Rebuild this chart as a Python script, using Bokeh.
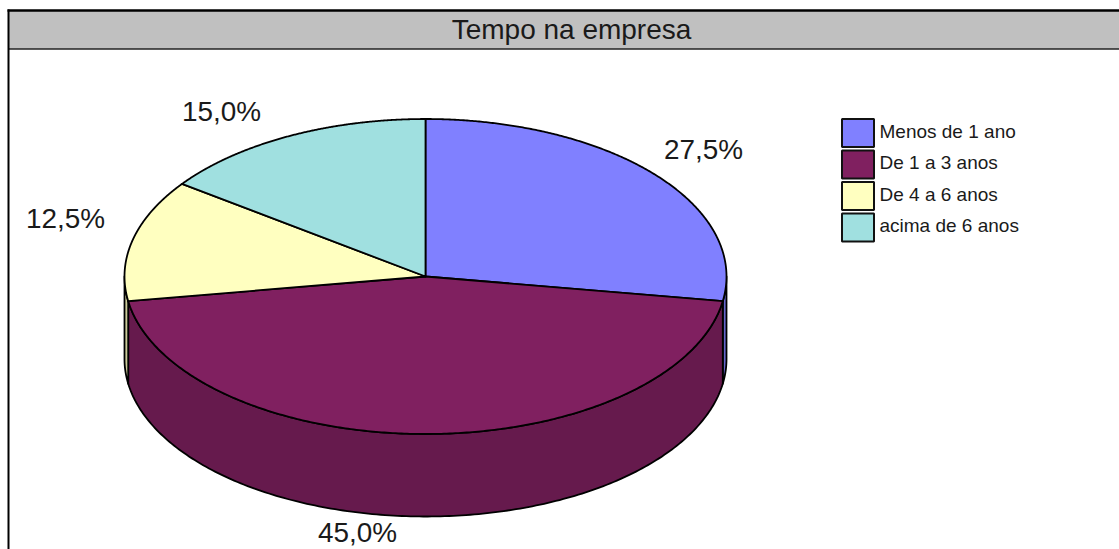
import numpy as np
from bokeh.embed import file_html
from bokeh.resources import INLINE
from bokeh.plotting import figure
from bokeh.models import Range1d
from bokeh.core.properties import value

title = "Tempo na empresa"
categories = ["Menos de 1 ano", "De 1 a 3 anos", "De 4 a 6 anos", "acima de 6 anos"]
shares = [27.5, 45.0, 12.5, 15.0]
share_labels = ["27,5%", "45,0%", "12,5%", "15,0%"]
top_colors = ["#8080FF", "#802060", "#FFFFC0", "#A0E0E0"]
side_colors = ["#6666CC", "#661A4D", "#CCCC9A", "#80B3B3"]

# layout (page pixels)
W, H = 1119, 549
CX, CY, RX, RY, DEPTH = 425.0, 276.0, 301.0, 157.5, 82.5
LABEL_X = [703, 357, 65, 221]
LABEL_Y = [149, 532, 218, 111]
FONT = value("Liberation Sans")

p = figure(width=W, height=H, output_backend="svg", toolbar_location=None,
           x_range=Range1d(0, W), y_range=Range1d(H, 0), min_border=0,
           background_fill_color="white", border_fill_color="white")
p.axis.visible = False
p.grid.visible = False
p.outline_line_color = None

# frame and title band
p.quad(left=[8], right=[W], top=[10.5], bottom=[48.5], fill_color="#C0C0C0", line_color=None)
p.line([7, W], [10, 10], line_color="black", line_width=2.5)
p.line([8, W], [48.5, 48.5], line_color="#222222", line_width=1.5)
p.line([8, 8], [9, H], line_color="black", line_width=2)
p.text([571], [29], text=[title], text_font=FONT, text_font_size="28px",
       text_align="center", text_baseline="middle", text_color="#1a1a1a")


def ell(a, dy=0.0):
    return CX + RX * np.sin(a), CY + dy - RY * np.cos(a)


edges = np.radians(np.concatenate([[0], np.cumsum(shares) * 3.6]))

# visible side wall: the front half of the rim, slice by slice
for i, (a0, a1) in enumerate(zip(edges[:-1], edges[1:])):
    lo, hi = max(a0, np.pi / 2), min(a1, 3 * np.pi / 2)
    if lo < hi:
        t = np.linspace(lo, hi, 200)
        xt, yt = ell(t)
        xb, yb = ell(t, DEPTH)
        p.patch(np.r_[xt, xb[::-1]], np.r_[yt, yb[::-1]], fill_color=side_colors[i],
                line_color="black", line_width=1.8, line_join="round")

# top faces
for i, (a0, a1) in enumerate(zip(edges[:-1], edges[1:])):
    t = np.linspace(a0, a1, 300)
    xt, yt = ell(t)
    p.patch(np.r_[CX, xt], np.r_[CY, yt], fill_color=top_colors[i],
            line_color="black", line_width=1.8, line_join="round")

# percentage labels
p.text(LABEL_X, LABEL_Y, text=share_labels, text_font=FONT, text_font_size="27.9px",
       text_align="center", text_baseline="middle", text_color="#1a1a1a")

# legend
LEG_L, LEG_R, LEG_TOP, LEG_STEP, LEG_H = 841.5, 873.5, 118.5, 31.5, 28
for i, c in enumerate(categories):
    y0 = LEG_TOP + i * LEG_STEP
    p.quad(left=[LEG_L], right=[LEG_R], top=[y0], bottom=[y0 + LEG_H], fill_color=top_colors[i],
           line_color="#111111", line_width=2)
    p.text([879], [y0 + LEG_H / 2 - 2], text=[c], text_font=FONT, text_font_size="19px",
           text_align="left", text_baseline="middle", text_color="#1a1a1a")

open("out.html", "w").write(file_html(p, INLINE))
